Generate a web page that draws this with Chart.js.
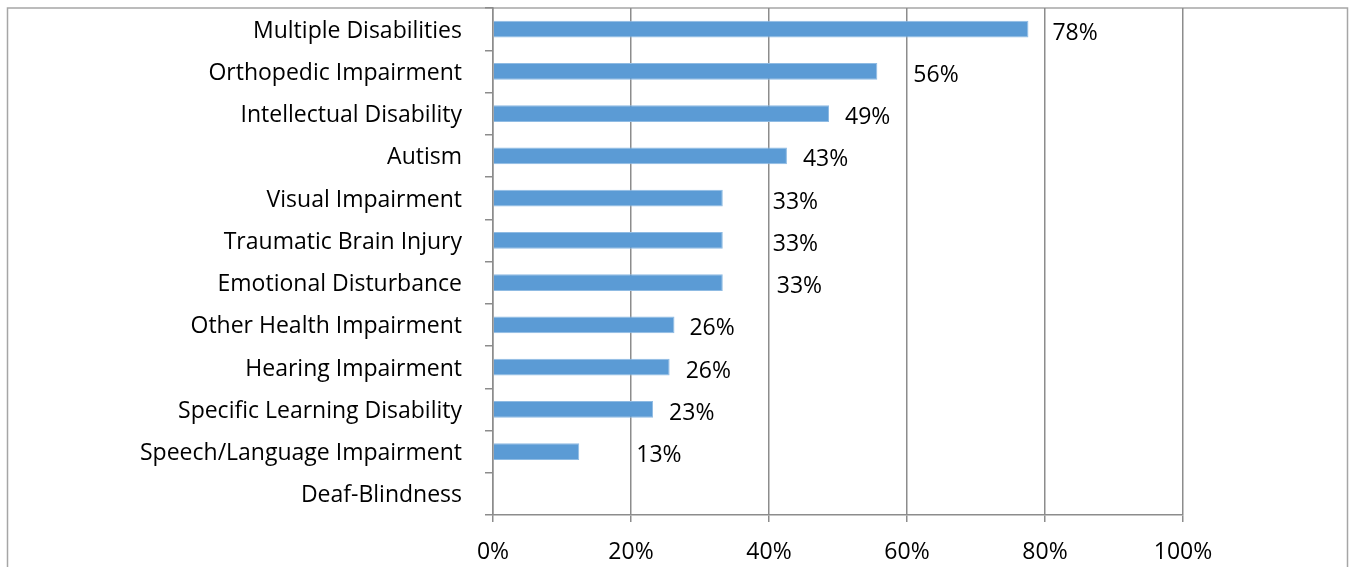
<!DOCTYPE html>
<html>
<head>
<meta charset="utf-8">
<script src="https://cdn.jsdelivr.net/npm/chart.js@4"></script>
<style>
    html, body { margin: 0; padding: 0; background: #ffffff; }
    #wrap { width: 1351px; height: 567px; position: relative; }
</style>
</head>
<body>
<div id="wrap"><canvas id="disabilityChart" width="1351" height="567"></canvas></div>
<script>
const categories = [
    "Multiple Disabilities",
    "Orthopedic Impairment",
    "Intellectual Disability",
    "Autism",
    "Visual Impairment",
    "Traumatic Brain Injury",
    "Emotional Disturbance",
    "Other Health Impairment",
    "Hearing Impairment",
    "Specific Learning Disability",
    "Speech/Language Impairment",
    "Deaf-Blindness"
];
const percentValues = [77.6, 55.7, 48.7, 42.6, 33.3, 33.3, 33.3, 26.3, 25.6, 23.2, 12.5, 0];
const valueLabels = ["78%", "56%", "49%", "43%", "33%", "33%", "33%", "26%", "26%", "23%", "13%", ""];
const xTicks = [0, 20, 40, 60, 80, 100];

// how far each label sits right of its bar end (the labels were dragged around in the original)
const labelGap = [24, 36, 16, 16, 50, 50, 54, 15, 16, 16, 57, 16];

const FONT = "'Open Sans', sans-serif";
const FONT_SIZE = 23;

// outer frame around the whole chart
const framePlugin = {
    id: "frame",
    beforeDraw(chart) {
        const c = chart.ctx;
        c.save();
        c.strokeStyle = "#a6a6a6";
        c.lineWidth = 1.5;
        c.strokeRect(7.5, 8, 1340, 600);
        c.restore();
    }
};

// data labels right of each bar
const labelPlugin = {
    id: "valueLabels",
    afterDatasetsDraw(chart) {
        const c = chart.ctx;
        const meta = chart.getDatasetMeta(0);
        c.save();
        c.font = FONT_SIZE + "px " + FONT;
        c.fillStyle = "#000000";
        c.textAlign = "left";
        c.textBaseline = "middle";
        meta.data.forEach((bar, i) => {
            if (!valueLabels[i]) return;
            c.fillText(valueLabels[i], bar.x + labelGap[i], bar.y + 4);
        });
        c.restore();
    }
};

new Chart(document.getElementById("disabilityChart"), {
    type: "bar",
    data: {
        labels: categories,
        datasets: [{
            data: percentValues,
            backgroundColor: "#5b9bd5",
            borderColor: "#8fbbe3",
            borderWidth: 1,
            barPercentage: 0.8,
            categoryPercentage: 0.5
        }]
    },
    options: {
        indexAxis: "y",
        responsive: false,
        animation: false,
        layout: { padding: { top: 8, right: 168, left: 8, bottom: 0 } },
        plugins: {
            legend: { display: false },
            tooltip: { enabled: false }
        },
        scales: {
            x: {
                min: 0,
                max: 100,
                afterBuildTicks: scale => { scale.ticks = xTicks.map(v => ({ value: v })); },
                afterFit: scale => { scale.height = 52; },
                ticks: {
                    color: "#000000",
                    font: { size: FONT_SIZE, family: FONT },
                    padding: 17,
                    callback: v => v + "%"
                },
                grid: { color: "#8c8c8c", lineWidth: 1.5, tickLength: 7 },
                border: { color: "#8c8c8c", width: 1.5 }
            },
            y: {
                afterFit: scale => {
                    scale.width = 485;
                    scale.paddingTop = 0;
                    scale.paddingBottom = 0;
                },
                ticks: {
                    color: "#000000",
                    font: { size: FONT_SIZE, family: FONT },
                    padding: 23,
                    labelOffset: 2
                },
                grid: { drawOnChartArea: false, color: "#8c8c8c", lineWidth: 1.5, tickLength: 8 },
                border: { color: "#8c8c8c", width: 1.5 }
            }
        }
    },
    plugins: [framePlugin, labelPlugin]
});
</script>
</body>
</html>
